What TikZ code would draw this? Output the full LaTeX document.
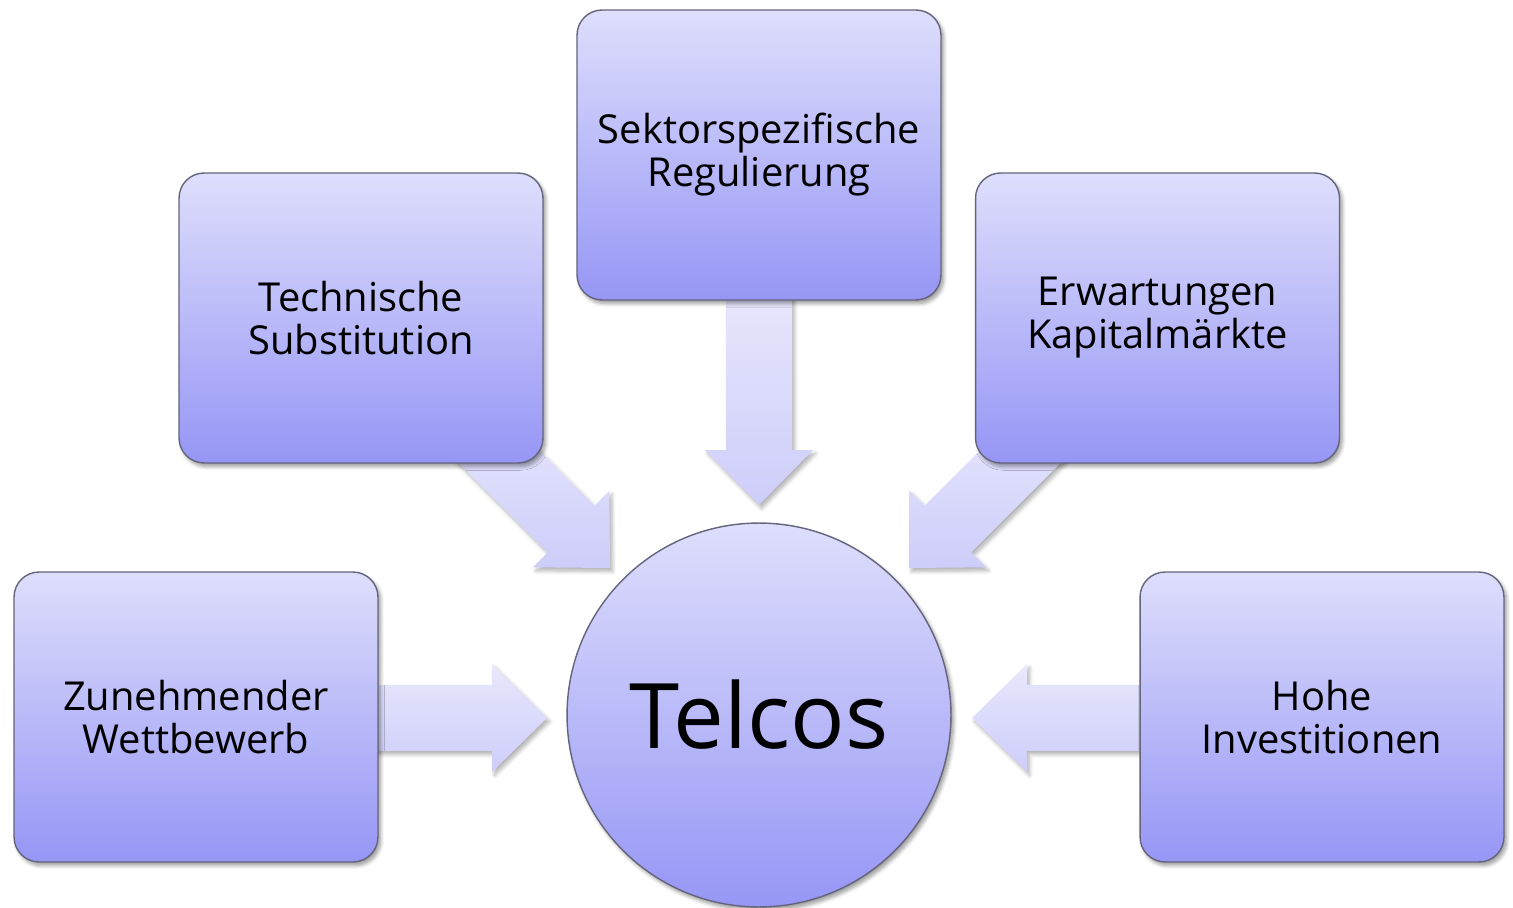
\documentclass[tikz,border=0pt]{standalone}
\usepackage{fontspec}
\setmainfont{Open Sans}
\usetikzlibrary{calc,shadows.blur}
\definecolor{boxtop}{RGB}{222,222,252}
\definecolor{boxbot}{RGB}{150,150,246}
\definecolor{boxline}{RGB}{100,100,125}
\definecolor{arrtop}{RGB}{232,232,253}
\definecolor{arrbot}{RGB}{205,205,250}
\tikzset{
  box/.style={draw=boxline, line width=0.8pt, rounded corners=0.5cm,
    minimum width=7.28cm, minimum height=5.8cm, top color=boxtop, bottom color=boxbot,
    align=center, font=\fontsize{22.7}{24.5}\selectfont,
    blur shadow={shadow xshift=1.5pt, shadow yshift=-2pt, shadow blur steps=6, shadow opacity=40}},
  hub/.style={circle, draw=boxline, line width=0.8pt, minimum size=7.68cm, inner sep=0pt,
    top color=boxtop, bottom color=boxbot, font=\fontsize{51.5}{60}\selectfont,
    blur shadow={shadow xshift=1.5pt, shadow yshift=-2pt, shadow blur steps=6, shadow opacity=40}},
  arrowfill/.style={top color=arrtop, bottom color=arrbot,
    blur shadow={shadow xshift=1.5pt, shadow yshift=-2pt, shadow blur steps=6, shadow opacity=30}}
}
\newcommand{\blockarr}[2]{%
  \path ($(#2)!1.1cm!(#1)$) coordinate (hb);
  \path[arrowfill] ($(#1)!0.66cm!90:(#2)$) -- ($(hb)!0.66cm!90:(#2)$) -- ($(hb)!1.08cm!90:(#2)$) -- (#2)
    -- ($(hb)!1.08cm!-90:(#2)$) -- ($(hb)!0.66cm!-90:(#2)$) -- ($(#1)!0.66cm!-90:(#2)$) -- cycle;}
\begin{document}
\begin{tikzpicture}[x=0.02cm, y=-0.02cm]
\useasboundingbox (0,0) rectangle (1513,908);
% arrow end points
\coordinate (s1) at (759,280);  \coordinate (t1) at (759,505);
\coordinate (s2) at (471,429);  \coordinate (t2) at (610,568);
\coordinate (s3) at (1048,429); \coordinate (t3) at (909,568);
\coordinate (s4) at (360,718);  \coordinate (t4) at (547,718);
\coordinate (s5) at (1159,718); \coordinate (t5) at (972,718);
\blockarr{s1}{t1}
\blockarr{s2}{t2}
\blockarr{s3}{t3}
\blockarr{s4}{t4}
\blockarr{s5}{t5}
% nodes
\node[box] (sek) at (759,155) {Sektorspezifische\\Regulierung};
\node[box] (tec) at (361,318) {Technische\\Substitution};
\node[box] (erw) at (1157.5,318) {Erwartungen\\Kapitalmärkte};
\node[box] (zun) at (196,717) {Zunehmender\\Wettbewerb};
\node[box] (hoh) at (1322,717) {Hohe\\Investitionen};
\node[hub] (tel) at (759,715) {Telcos};
\end{tikzpicture}
\end{document}
